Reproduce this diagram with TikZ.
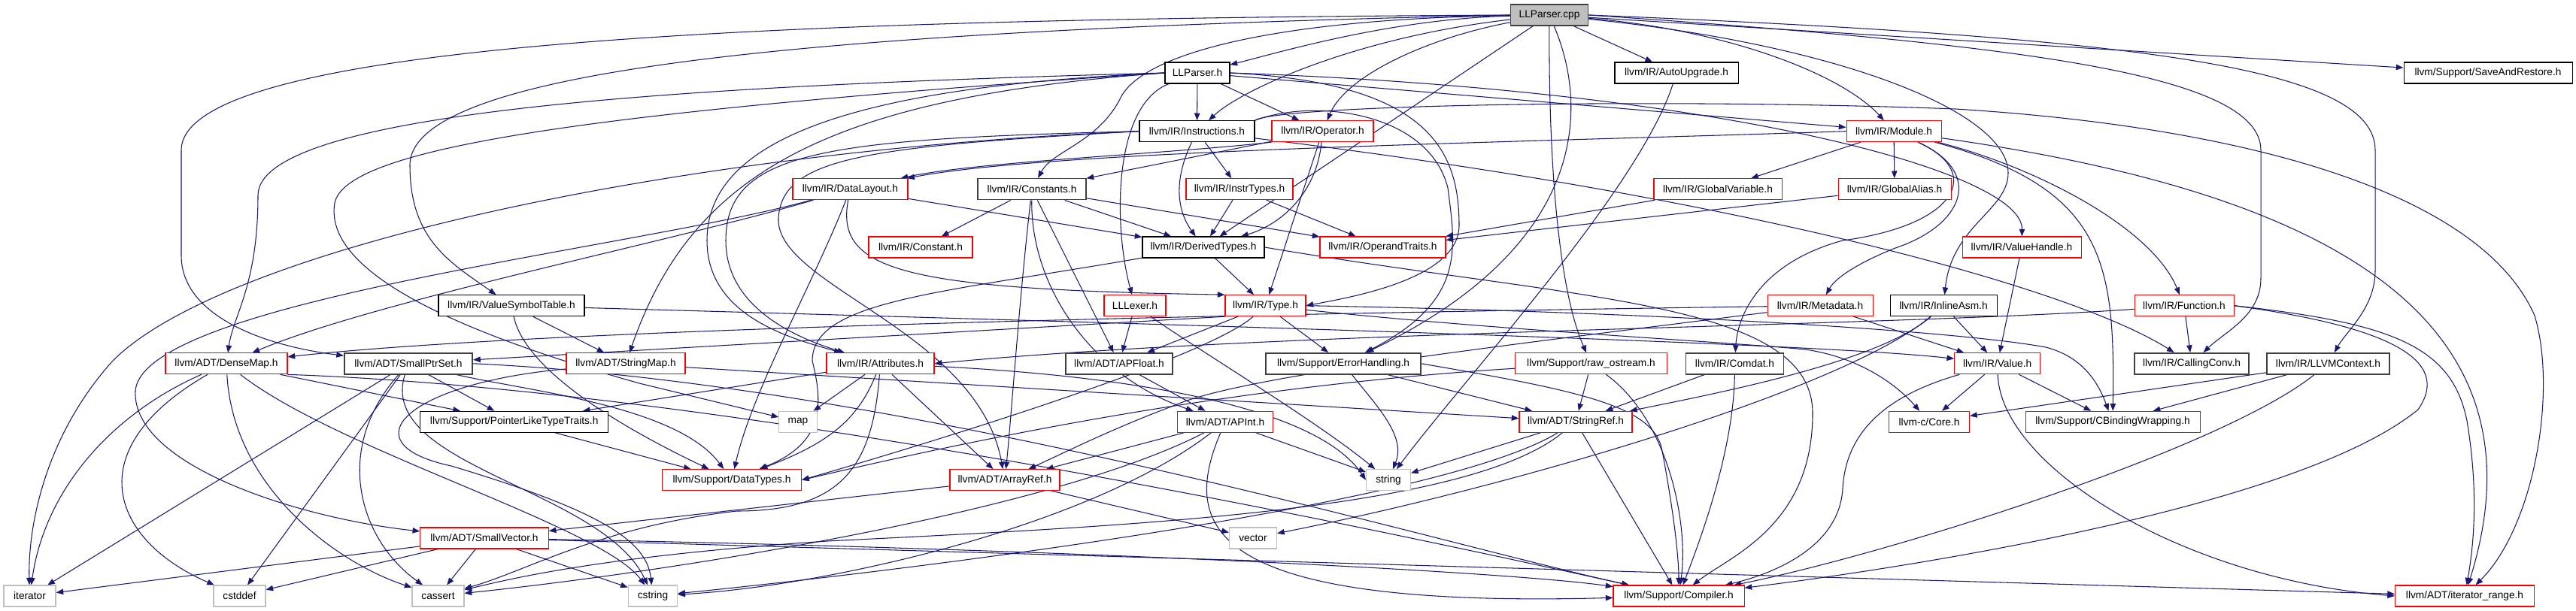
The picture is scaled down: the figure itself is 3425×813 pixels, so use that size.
\documentclass[tikz,border=0pt]{standalone}
\usepackage{fontspec}
\setmainfont{Liberation Sans}
\usetikzlibrary{arrows.meta,backgrounds}
\definecolor{edgec}{HTML}{191970}
\definecolor{sysgray}{HTML}{BFBFBF}
\definecolor{darkb}{HTML}{404040}
\newcommand{\gnode}[6]{\node[#5, minimum width=#4*0.02cm] (#1) at (#2,-#3) {#6};}
\tikzset{
  box/.style={draw, fill=white, inner sep=0pt, minimum height=0.56cm, line width=0.6pt, font=\fontsize{7.8}{9}\selectfont, text=black},
  redb/.style={box, draw=red},
  blkb/.style={box, draw=black},
  dkb/.style={box, draw=darkb, line width=0.9pt},
  sysb/.style={box, draw=sysgray},
  cppb/.style={box, draw=darkb, fill=sysgray, line width=0.9pt},
  e/.style={draw=edgec, line width=0.6pt, -{Triangle[length=5.5pt,width=4.2pt]}}
}
\begin{document}
\begin{tikzpicture}[x=0.02cm,y=0.02cm]
\useasboundingbox (0,0) rectangle (3425,-813);
% ---------------- nodes ----------------
\gnode{cpp}{2060}{20}{103}{cppb}{LLParser.cpp}
\gnode{llph}{1592}{97}{86}{blkb}{LLParser.h}
\gnode{autoup}{2229}{97}{164}{blkb}{llvm/IR/AutoUpgrade.h}
\gnode{saver}{3308}{97}{224}{blkb}{llvm/Support/SaveAndRestore.h}
\gnode{instr}{1591.5}{174.7}{153}{blkb}{llvm/IR/Instructions.h}
\gnode{operator}{1758.5}{174.7}{135}{redb}{llvm/IR/Operator.h}
\gnode{module}{2518}{174.7}{126}{redb}{llvm/IR/Module.h}
\gnode{datalayout}{1130.5}{251.7}{153}{redb}{llvm/IR/DataLayout.h}
\gnode{constants}{1372}{251.7}{143.5}{dkb}{llvm/IR/Constants.h}
\gnode{instrtypes}{1648}{251.7}{142}{redb}{llvm/IR/InstrTypes.h}
\gnode{globalvar}{2284}{251.7}{170}{redb}{llvm/IR/GlobalVariable.h}
\gnode{globalalias}{2519}{251.7}{150}{redb}{llvm/IR/GlobalAlias.h}
\gnode{constant}{1224}{329}{138}{redb}{llvm/IR/Constant.h}
\gnode{derived}{1600}{329}{162}{blkb}{llvm/IR/DerivedTypes.h}
\gnode{optraits}{1838.5}{329}{167}{redb}{llvm/IR/OperandTraits.h}
\gnode{valuehandle}{2688}{329}{158}{redb}{llvm/IR/ValueHandle.h}
\gnode{vsymtab}{680}{406.7}{194}{blkb}{llvm/IR/ValueSymbolTable.h}
\gnode{lllexer}{1509}{406.7}{82}{redb}{LLLexer.h}
\gnode{type}{1682.5}{406.7}{107}{redb}{llvm/IR/Type.h}
\gnode{metadata}{2420}{406.7}{140}{redb}{llvm/IR/Metadata.h}
\gnode{inlineasm}{2584}{406.7}{142}{blkb}{llvm/IR/InlineAsm.h}
\gnode{function}{2904}{406.7}{132}{redb}{llvm/IR/Function.h}
\gnode{densemap}{301}{483.8}{162}{redb}{llvm/ADT/DenseMap.h}
\gnode{smallptr}{543}{483.8}{170.5}{dkb}{llvm/ADT/SmallPtrSet.h}
\gnode{stringmap}{832}{483.8}{158}{redb}{llvm/ADT/StringMap.h}
\gnode{attributes}{1170.5}{483.8}{143}{redb}{llvm/IR/Attributes.h}
\gnode{apfloat}{1488}{483.8}{142.5}{dkb}{llvm/ADT/APFloat.h}
\gnode{errh}{1786}{483.8}{206}{dkb}{llvm/Support/ErrorHandling.h}
\gnode{rawos}{2115.5}{483.8}{202}{redb}{llvm/Support/raw\_ostream.h}
\gnode{comdat}{2306.5}{483.8}{130}{dkb}{llvm/IR/Comdat.h}
\gnode{value}{2655.7}{483.8}{114}{redb}{llvm/IR/Value.h}
\gnode{callconv}{2914}{483.8}{152}{dkb}{llvm/IR/CallingConv.h}
\gnode{llvmctx}{3095.5}{483.8}{163}{dkb}{llvm/IR/LLVMContext.h}
\gnode{ptrlike}{683.7}{561.3}{250}{blkb}{llvm/Support/PointerLikeTypeTraits.h}
\gnode{map}{1061}{561.3}{50.5}{sysb}{map}
\gnode{apint}{1629}{561.3}{127}{redb}{llvm/ADT/APInt.h}
\gnode{stringref}{2095}{561.3}{150}{redb}{llvm/ADT/StringRef.h}
\gnode{core}{2565}{561.3}{107}{redb}{llvm-c/Core.h}
\gnode{cbinding}{2809}{561.3}{232}{redb}{llvm/Support/CBindingWrapping.h}
\gnode{datatypes}{973}{638.7}{185}{redb}{llvm/Support/DataTypes.h}
\gnode{arrayref}{1336}{638.7}{146}{redb}{llvm/ADT/ArrayRef.h}
\gnode{string}{1846}{638.7}{59}{sysb}{string}
\gnode{smallvector}{644}{716}{170.5}{redb}{llvm/ADT/SmallVector.h}
\gnode{vector}{1666}{716}{63}{sysb}{vector}
\gnode{iterator}{39.5}{793}{69}{sysb}{iterator}
\gnode{cstddef}{318.5}{793}{69}{sysb}{cstddef}
\gnode{cassert}{582.5}{793}{69}{sysb}{cassert}
\gnode{cstring}{868}{793}{65.5}{sysb}{cstring}
\gnode{compiler}{2232}{793}{174}{redb}{llvm/Support/Compiler.h}
\gnode{itrange}{3277}{793}{185}{redb}{llvm/ADT/iterator\_range.h}
% ---------------- edges ----------------
\begin{scope}[on background layer]
\fill[white] (0,0) rectangle (3425,-813);
% LLParser.cpp
\draw[e] (cpp) .. controls (1850,-25) and (1700,-70) .. (llph);
\draw[e] (cpp) -- (autoup);
\draw[e] (cpp) -- (saver);
\draw[e] (cpp) .. controls (2300,-40) and (2450,-100) .. (module);
\draw[e] (cpp) .. controls (1900,-50) and (1790,-100) .. (operator);
\draw[e] (cpp) .. controls (1800,-50) and (1650,-120) .. (instr);
\draw[e] (cpp) .. controls (1700,-25) and (1520,-70) .. (1490,-130) .. controls (1460,-190) and (1400,-200) .. (constants);
\draw[e] (cpp) -- (derived);
\draw[e] (cpp.west) .. controls (1100,-40) and (545,-90) .. (545,-220) .. controls (545,-320) and (600,-350) .. (vsymtab);
\draw[e] (cpp.west) .. controls (1100,-25) and (241,-50) .. (241,-200) -- (241,-340) .. controls (241,-420) and (350,-460) .. (smallptr);
\draw[e] (cpp.east) .. controls (2700,-60) and (3006,-100) .. (3006,-200) -- (3006,-370) .. controls (3006,-420) and (2960,-440) .. (callconv);
\draw[e] (cpp.east) .. controls (2850,-50) and (3158,-90) .. (3158,-200) -- (3158,-360) .. controls (3158,-410) and (3120,-440) .. (llvmctx);
\draw[e] (cpp) .. controls (2450,-60) and (2670,-150) .. (2670,-230) .. controls (2670,-280) and (2595,-300) .. (inlineasm);
\draw[e] (cpp) .. controls (2115,-150) and (2105,-330) .. (errh);
\draw[e] (cpp) .. controls (2059,-200) and (2070,-380) .. (rawos);
% LLParser.h
\draw[e] (llph) .. controls (1480,-140) and (1480,-300) .. (lllexer);
\draw[e] (llph) -- (instr);
\draw[e] (llph) -- (operator);
\draw[e] (llph.west) .. controls (1000,-112) and (343,-140) .. (343,-260) .. controls (343,-380) and (310,-420) .. (densemap);
\draw[e] (llph.west) .. controls (750,-150) and (460,-200) .. (445,-270) .. controls (430,-360) and (600,-440) .. (850,-510) -- (map);
\draw[e] (llph.west) .. controls (1100,-130) and (920,-230) .. (stringmap);
\draw[e] (llph.west) .. controls (1150,-115) and (940,-180) .. (940,-320) .. controls (940,-420) and (1050,-450) .. (attributes);
\draw[e] (llph) -- (module);
\draw[e] (llph.east) .. controls (1900,-110) and (1940,-200) .. (1940,-300) .. controls (1940,-370) and (1800,-395) .. (type.east);
\draw[e] (llph.east) .. controls (2300,-120) and (2690,-230) .. (valuehandle);
% Instructions.h
\draw[e] (instr) -- (instrtypes);
\draw[e] (instr) .. controls (1560,-240) and (1565,-280) .. (derived);
\draw[e] (instr) .. controls (2300,-260) and (2750,-380) .. (callconv);
\draw[e] (instr.north east) .. controls (1700,-140) and (2200,-130) .. (2600,-145) .. controls (3000,-170) and (3300,-260) .. (3370,-420) .. controls (3400,-520) and (3370,-700) .. (itrange);
\draw[e] (instr.west) .. controls (1100,-185) and (965,-200) .. (965,-320) .. controls (965,-410) and (1060,-450) .. (attributes);
\draw[e] (instr.west) .. controls (1150,-195) and (1040,-210) .. (1035,-290) .. controls (1030,-380) and (1300,-440) .. (arrayref);
\draw[e] (instr.west) .. controls (900,-200) and (300,-330) .. (150,-480) .. controls (60,-580) and (37,-700) .. (iterator);
\draw[e] (instr.north east) .. controls (1750,-130) and (1900,-150) .. (1925,-250) .. controls (1935,-330) and (1950,-400) .. (errh);
% Operator.h
\draw[e] (operator) -- (constants);
\draw[e] (operator.south west) .. controls (1550,-205) and (1300,-215) .. (datalayout);
\draw[e] (operator) .. controls (1750,-260) and (1700,-300) .. (derived);
\draw[e] (operator) -- (type);
% Module.h
\draw[e] (module) .. controls (3050,-250) and (3400,-400) .. (itrange);
\draw[e] (module) .. controls (2640,-230) and (2600,-300) .. (2450,-320) .. controls (2340,-350) and (2310,-420) .. (comdat);
\draw[e] (module.west) .. controls (2000,-190) and (1400,-200) .. (datalayout);
\draw[e] (module) .. controls (2700,-220) and (2860,-300) .. (function);
\draw[e] (module) -- (globalalias);
\draw[e] (module) -- (globalvar);
\draw[e] (module) .. controls (2640,-230) and (2610,-300) .. (2520,-330) .. controls (2470,-350) and (2440,-370) .. (metadata);
\draw[e] (module) .. controls (2800,-250) and (2812,-350) .. (cbinding);
% AutoUpgrade.h
\draw[e] (autoup) .. controls (2180,-250) and (1950,-500) .. (string);
% DataLayout.h
\draw[e] (datalayout) .. controls (900,-320) and (500,-400) .. (densemap);
\draw[e] (datalayout) .. controls (850,-330) and (190,-400) .. (180,-520) .. controls (175,-620) and (400,-690) .. (smallvector);
\draw[e] (datalayout) -- (derived);
\draw[e] (datalayout) .. controls (1110,-360) and (1200,-385) .. (type.north west);
\draw[e] (datalayout) .. controls (1080,-380) and (1000,-520) .. (datatypes);
% Constants.h
\draw[e] (constants) -- (constant);
\draw[e] (constants) -- (optraits);
\draw[e] (constants) -- (derived);
\draw[e] (constants) -- (apfloat);
\draw[e] (constants) .. controls (1370,-380) and (1450,-500) .. (apint);
\draw[e] (constants) .. controls (1355,-400) and (1345,-550) .. (arrayref);
% InstrTypes / Globals
\draw[e] (instrtypes) -- (derived);
\draw[e] (instrtypes) -- (optraits);
\draw[e] (globalvar) -- (optraits);
\draw[e] (globalalias) -- (optraits);
% DerivedTypes.h
\draw[e] (derived) -- (type);
\draw[e] (derived) .. controls (1250,-390) and (1080,-400) .. (1080,-480) .. controls (1095,-540) and (1095,-590) .. (datatypes);
\draw[e] (derived.east) .. controls (2100,-400) and (2410,-400) .. (2410,-550) .. controls (2410,-700) and (2300,-740) .. (compiler);
% Type.h
\draw[e] (type) .. controls (2000,-440) and (2300,-455) .. (2400,-465) .. controls (2470,-475) and (2520,-510) .. (core);
\draw[e] (type) -- (apfloat);
\draw[e] (type.east) .. controls (2200,-415) and (2600,-440) .. (2720,-462) .. controls (2770,-475) and (2790,-510) .. (cbinding);
\draw[e] (type) .. controls (1600,-480) and (1200,-600) .. (datatypes.east);
\draw[e] (type) -- (errh);
\draw[e] (type.south west) -- (smallptr);
% LLLexer.h
\draw[e] (lllexer) -- (apfloat);
\draw[e] (lllexer) .. controls (1600,-470) and (1750,-560) .. (string);
% ValueSymbolTable.h
\draw[e] (vsymtab) .. controls (1500,-430) and (2400,-455) .. (value);
\draw[e] (vsymtab) -- (stringmap);
\draw[e] (vsymtab) .. controls (700,-500) and (850,-580) .. (datatypes);
% ValueHandle / Metadata / Function / InlineAsm
\draw[e] (valuehandle) -- (value);
\draw[e] (metadata) -- (value);
\draw[e] (metadata) .. controls (2000,-460) and (1650,-500) .. (1560,-540) .. controls (1480,-570) and (1420,-600) .. (arrayref);
\draw[e] (metadata) .. controls (1500,-420) and (700,-440) .. (densemap);
\draw[e] (function) .. controls (2500,-435) and (1700,-440) .. (attributes.east);
\draw[e] (function) -- (callconv);
\draw[e] (function.east) .. controls (3180,-430) and (3260,-460) .. (3280,-560) .. controls (3295,-650) and (3290,-720) .. (itrange);
\draw[e] (function.east) .. controls (3180,-435) and (3260,-480) .. (3215,-545) .. controls (3050,-680) and (2500,-760) .. (compiler);
\draw[e] (inlineasm) -- (value);
\draw[e] (inlineasm) .. controls (2500,-480) and (2300,-520) .. (stringref);
\draw[e] (inlineasm) .. controls (2450,-520) and (2000,-650) .. (vector);
% Attributes.h
\draw[e] (attributes) -- (map);
\draw[e] (attributes) .. controls (1140,-560) and (1100,-590) .. (datatypes);
\draw[e] (attributes) -- (ptrlike);
\draw[e] (attributes) -- (arrayref);
\draw[e] (attributes) .. controls (1160,-620) and (1120,-680) .. (980,-680) .. controls (800,-700) and (700,-760) .. (cassert);
\draw[e] (attributes) .. controls (1500,-500) and (1750,-540) .. (string.west);
% SmallPtrSet.h
\draw[e] (smallptr) -- (ptrlike);
\draw[e] (smallptr) -- (iterator);
\draw[e] (smallptr) -- (cstddef);
\draw[e] (smallptr) .. controls (440,-600) and (480,-720) .. (cassert);
\draw[e] (smallptr) .. controls (500,-620) and (800,-650) .. (cstring);
\draw[e] (smallptr.east) .. controls (1200,-510) and (1900,-720) .. (compiler);
\draw[e] (smallptr) .. controls (700,-520) and (900,-540) .. (datatypes);
% DenseMap.h
\draw[e] (densemap) -- (ptrlike);
\draw[e] (densemap) .. controls (150,-550) and (60,-650) .. (iterator);
\draw[e] (densemap) .. controls (100,-600) and (150,-720) .. (cstddef);
\draw[e] (densemap) .. controls (310,-650) and (450,-750) .. (cassert);
\draw[e] (densemap) .. controls (450,-600) and (800,-700) .. (cstring);
\draw[e] (densemap.south east) .. controls (1000,-520) and (1900,-720) .. (compiler);
% StringMap / PointerLike
\draw[e] (stringmap) -- (stringref);
\draw[e] (stringmap) .. controls (540,-510) and (460,-590) .. (600,-620) .. controls (800,-680) and (860,-720) .. (cstring);
\draw[e] (ptrlike) -- (datatypes);
% Value.h
\draw[e] (value) -- (core);
\draw[e] (value) -- (cbinding);
\draw[e] (value) .. controls (2660,-620) and (2900,-770) .. (itrange.west);
\draw[e] (value) .. controls (2530,-520) and (2455,-560) .. (2450,-650) .. controls (2445,-740) and (2330,-770) .. (compiler);
% LLVMContext.h
\draw[e] (llvmctx) -- (core);
\draw[e] (llvmctx) -- (cbinding);
\draw[e] (llvmctx) .. controls (2950,-600) and (2500,-740) .. (compiler);
% APFloat / APInt / ArrayRef
\draw[e] (apfloat) -- (apint);
\draw[e] (apint) -- (arrayref);
\draw[e] (apint) -- (string);
\draw[e] (apint) .. controls (1400,-680) and (900,-760) .. (cassert);
\draw[e] (apint) .. controls (1450,-700) and (1100,-780) .. (cstring);
\draw[e] (apint) .. controls (1570,-700) and (1600,-810) .. (compiler);
\draw[e] (arrayref) -- (smallvector);
\draw[e] (arrayref) -- (vector);
% ErrorHandling / raw_ostream / Comdat / StringRef
\draw[e] (errh) -- (stringref);
\draw[e] (errh) .. controls (1830,-540) and (1870,-580) .. (string);
\draw[e] (errh.east) .. controls (2100,-520) and (2200,-540) .. (2210,-600) .. controls (2225,-680) and (2232,-740) .. (compiler);
\draw[e] (rawos) -- (stringref);
\draw[e] (rawos) .. controls (2220,-560) and (2245,-700) .. (compiler);
\draw[e] (rawos) .. controls (1700,-510) and (1400,-560) .. (datatypes.east);
\draw[e] (comdat) -- (stringref);
\draw[e] (comdat) .. controls (2305,-600) and (2260,-720) .. (compiler);
\draw[e] (stringref) -- (string);
\draw[e] (stringref) .. controls (1950,-680) and (1500,-700) .. (1100,-720) .. controls (800,-740) and (680,-770) .. (cassert);
\draw[e] (stringref) .. controls (1900,-680) and (1100,-770) .. (cstring);
\draw[e] (stringref) -- (compiler);
% SmallVector.h
\draw[e] (smallvector) -- (iterator);
\draw[e] (smallvector) -- (cstddef);
\draw[e] (smallvector) -- (cassert);
\draw[e] (smallvector) -- (cstring);
\draw[e] (smallvector) .. controls (1400,-730) and (2000,-760) .. (compiler);
\draw[e] (smallvector) -- (itrange);
\end{scope}
\end{tikzpicture}
\end{document}
